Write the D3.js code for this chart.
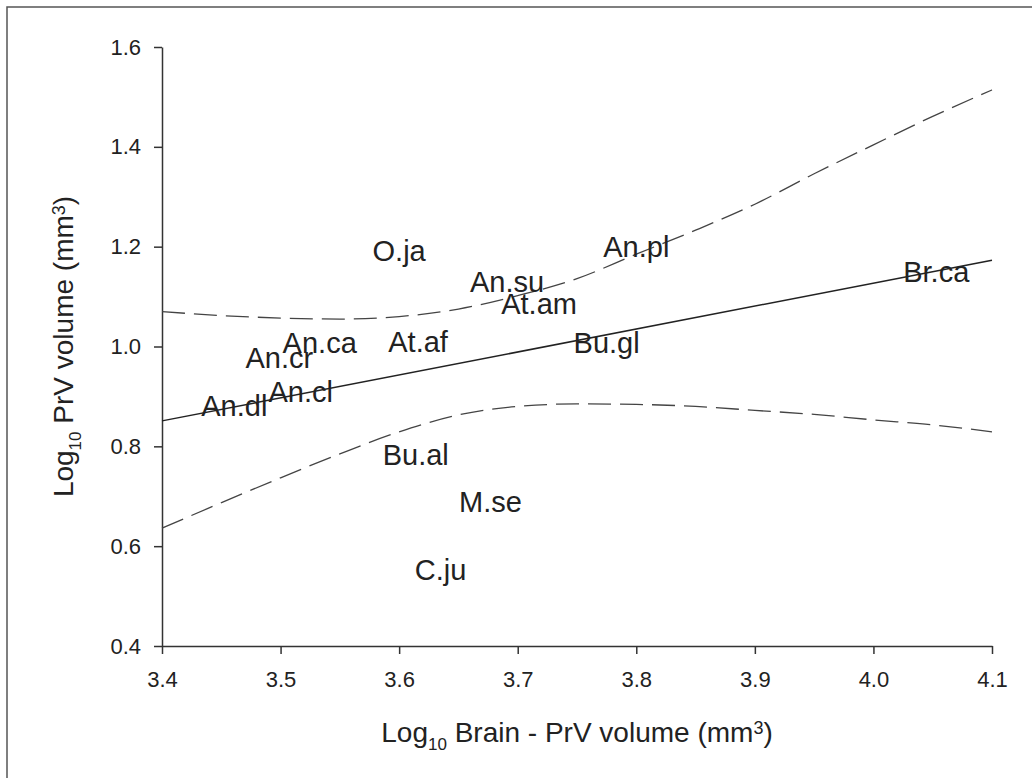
<!DOCTYPE html>
<html lang="en">
<head>
<meta charset="utf-8">
<title>PrV volume vs brain volume</title>
<script src="https://cdn.jsdelivr.net/npm/d3@7"></script>
<style>
body { margin:0; background:#fff; }
.tick text { font-family:"Liberation Sans", Arial, sans-serif; font-size:22px; fill:#222; }
.axis path, .axis line { stroke:#333; stroke-width:1.5px; }
.title { font-family:"Liberation Sans", Arial, sans-serif; font-size:28px; fill:#222; }
.species { font-family:"Liberation Sans", Arial, sans-serif; font-size:29px; fill:#222; }
</style>
</head>
<body>
<div id="chart1"></div>
<script>
// species codes and their position (log10 brain - PrV, log10 PrV)
var species = ["O.ja", "An.pl", "Br.ca", "An.su", "At.am", "An.ca", "At.af", "Bu.gl",
               "An.cr", "An.cl", "An.dl", "Bu.al", "M.se", "C.ju"];
var speciesX = [3.600, 3.800, 4.053, 3.691, 3.718, 3.533, 3.616, 3.775,
                3.499, 3.517, 3.461, 3.614, 3.677, 3.635];
var speciesY = [1.193, 1.200, 1.150, 1.130, 1.087, 1.007, 1.010, 1.007,
                0.977, 0.909, 0.881, 0.783, 0.689, 0.554];

// regression line end points
var fitX = [3.4, 4.1];
var fitY = [0.851, 1.173];

// confidence band
var bandX     = [3.4, 3.45, 3.5, 3.55, 3.6, 3.65, 3.7, 3.75, 3.8, 3.85, 3.9, 3.95, 4.0, 4.05, 4.1];
var bandUpper = [1.070, 1.062, 1.057, 1.055, 1.060, 1.075, 1.102, 1.136, 1.185, 1.233, 1.285, 1.346, 1.404, 1.461, 1.514];
var bandLower = [0.636, 0.687, 0.737, 0.785, 0.829, 0.863, 0.880, 0.885, 0.884, 0.880, 0.872, 0.864, 0.853, 0.843, 0.829];

var xTicks = [3.4, 3.5, 3.6, 3.7, 3.8, 3.9, 4.0, 4.1];
var yTicks = [0.4, 0.6, 0.8, 1.0, 1.2, 1.4, 1.6];

(function(){
	var W = 1032, H = 778;
	var m = {left:162, right:40, top:47, bottom:132};

	var svg = d3.select("#chart1").append("svg")
		.attr("width", W).attr("height", H);

	// outer frame (only top / left edges fall inside the picture)
	svg.append("rect")
		.attr("x", 7).attr("y", 7).attr("width", W + 20).attr("height", H + 20)
		.attr("fill", "none").attr("stroke", "#555").attr("stroke-width", 1.5);

	var x = d3.scaleLinear().domain([3.4, 4.1]).range([m.left, W - m.right]);
	var y = d3.scaleLinear().domain([0.4, 1.6]).range([H - m.bottom, m.top]);

	svg.append("g").attr("class", "axis")
		.attr("transform", "translate(0," + y(0.4) + ")")
		.call(d3.axisBottom(x).tickValues(xTicks).tickFormat(d3.format(".1f"))
			.tickSize(8).tickSizeOuter(0).tickPadding(17));
	svg.append("g").attr("class", "axis")
		.attr("transform", "translate(" + x(3.4) + ",0)")
		.call(d3.axisLeft(y).tickValues(yTicks).tickFormat(d3.format(".1f"))
			.tickSize(8).tickSizeOuter(0).tickPadding(13));
	svg.selectAll(".tick text").attr("font-family", null).attr("font-size", null);

	// band lines
	var line = d3.line().curve(d3.curveMonotoneX);
	[bandUpper, bandLower].forEach(function(b){
		svg.append("path")
			.attr("d", line(bandX.map(function(d, i){ return [x(d), y(b[i])]; })))
			.attr("fill", "none").attr("stroke", "#444").attr("stroke-width", 1.3)
			.attr("stroke-dasharray", "23,9");
	});
	svg.append("path")
		.attr("d", line(fitX.map(function(d, i){ return [x(d), y(fitY[i])]; })))
		.attr("fill", "none").attr("stroke", "#222").attr("stroke-width", 1.5);

	// species labels sit on the data points
	svg.append("g").selectAll("text").data(species)
		.enter().append("text")
			.attr("class", "species")
			.attr("text-anchor", "middle")
			.attr("x", function(d, i){ return x(speciesX[i]); })
			.attr("y", function(d, i){ return y(speciesY[i]); })
			.attr("dy", "0.36em")
			.text(function(d){ return d; });

	// axis titles
	var xt = svg.append("text").attr("class", "title")
		.attr("text-anchor", "middle")
		.attr("x", (x(3.4) + x(4.1)) / 2).attr("y", 742);
	xt.append("tspan").text("Log");
	xt.append("tspan").attr("font-size", "17px").attr("dy", 8).text("10");
	xt.append("tspan").attr("dy", -8).text(" Brain - PrV volume (mm");
	xt.append("tspan").attr("font-size", "18px").attr("dy", -8).text("3");
	xt.append("tspan").attr("dy", 8).text(")");

	var yt = svg.append("text").attr("class", "title")
		.attr("text-anchor", "middle")
		.attr("transform", "translate(73," + (y(0.4) + y(1.6)) / 2 + ") rotate(-90)");
	yt.append("tspan").text("Log");
	yt.append("tspan").attr("font-size", "17px").attr("dy", 8).text("10");
	yt.append("tspan").attr("dy", -8).text(" PrV volume (mm");
	yt.append("tspan").attr("font-size", "18px").attr("dy", -8).text("3");
	yt.append("tspan").attr("dy", 8).text(")");
})();
</script>
</body>
</html>
